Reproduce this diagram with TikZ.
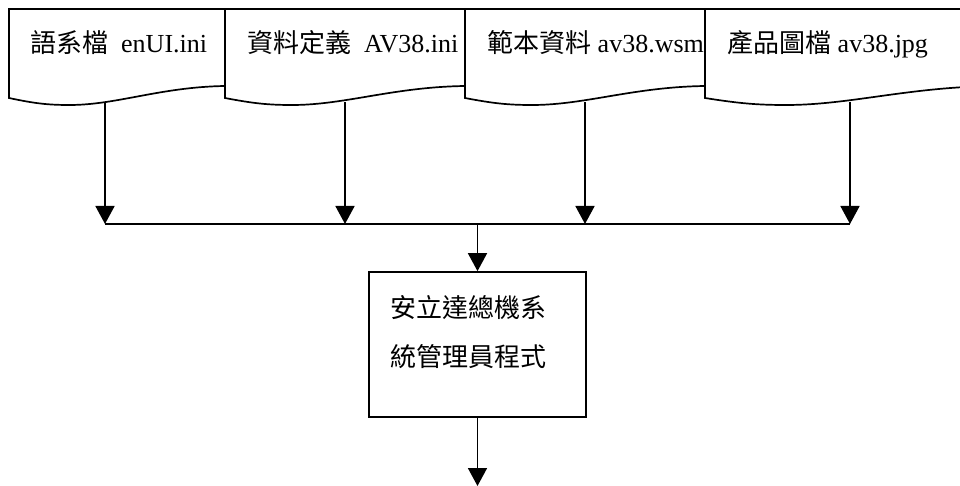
\documentclass[tikz,border=0pt]{standalone}
\usepackage{fontspec}
\setmainfont{Liberation Serif}
\newfontfamily\cjk{Noto Sans CJK TC}
\usetikzlibrary{arrows.meta}
\tikzset{
  docline/.style={draw=black, line width=1.7pt, fill=white, line join=miter},
  pics/docpage/.style={code={
    \def\w{#1}
    \path[docline] (0,9) -- (\w,9) -- (\w,86)
      .. controls ({0.7*\w},87) and ({0.5*\w},105) .. ({0.28*\w},105)
      .. controls ({0.18*\w},105) and ({0.12*\w},103.5) .. (0,98) -- cycle;
  }},
  doctext/.style={anchor=base west, inner sep=0pt, font=\fontsize{26}{30}\selectfont},
  conn/.style={draw=black, line width=1.7pt},
  arr/.style={conn, -{Triangle[length=18pt,width=19pt]}},
  progbox/.style={draw=black, line width=1.7pt, minimum width=217pt, minimum height=145pt, inner sep=0pt},
  progtext/.style={anchor=west, align=left, inner sep=0pt, font=\cjk\fontsize{26}{49}\selectfont}
}
\begin{document}
\begin{tikzpicture}[x=1pt, y=-1pt]
\useasboundingbox (0,0) rectangle (960,486);
% documents
\pic at (9,0) {docpage=216};
\pic at (225,0) {docpage=240};
\pic at (465,0) {docpage=240};
\pic at (705,0) {docpage=290};
% document texts
\node[doctext] (t1) at (30,53) {{\cjk 語系檔}\ \ enUI.ini};
\node[doctext] (t2) at (247,53) {{\cjk 資料定義}\ \ AV38.ini};
\node[doctext] (t3) at (487,53) {{\cjk 範本資料} av38.wsm};
\node[doctext] (t4) at (727,53) {{\cjk 產品圖檔} av38.jpg};
% connector points
\coordinate (d1) at (105,103.5);
\coordinate (d2) at (345,102.5);
\coordinate (d3) at (585,102.5);
\coordinate (d4) at (850,102.5);
\coordinate (b1) at (105,224);
\coordinate (b2) at (345,224);
\coordinate (b3) at (585,224);
\coordinate (b4) at (850,224);
\coordinate (bc) at (477.5,224);
\coordinate (out) at (477.5,486);
% arrows
\draw[arr] (d1) -- (b1);
\draw[arr] (d2) -- (b2);
\draw[arr] (d3) -- (b3);
\draw[arr] (d4) -- (b4);
\draw[conn] (b1) -- (b4);
% program box
\node[progbox] (prog) at (477.5,344.5) {};
\node[progtext] (ptext) at (390,332.5) {安立達總機系\\統管理員程式};
\draw[arr] (bc) -- (prog.north);
\draw[arr] (prog.south) -- (out);
\end{tikzpicture}
\end{document}
